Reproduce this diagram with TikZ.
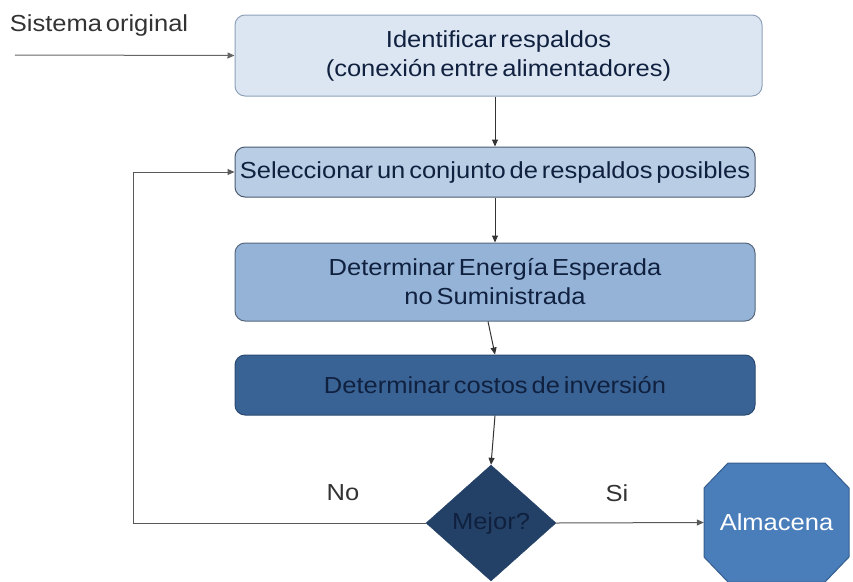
\documentclass[tikz,border=0pt]{standalone}
\usepackage{fontspec}
\setmainfont{Liberation Sans}[FakeStretch=1.1, WordSpace=0.55]
\usetikzlibrary{shapes.geometric,arrows.meta}
\definecolor{fillA}{HTML}{DCE6F2}
\definecolor{lineA}{HTML}{8FA2BA}
\definecolor{fillB}{HTML}{B9CDE5}
\definecolor{lineB}{HTML}{4A5A6E}
\definecolor{fillC}{HTML}{95B3D7}
\definecolor{lineC}{HTML}{56677D}
\definecolor{fillD}{HTML}{3A6395}
\definecolor{lineD}{HTML}{2A4A72}
\definecolor{fillE}{HTML}{234166}
\definecolor{fillF}{HTML}{4A7EBB}
\definecolor{lineF}{HTML}{355E8E}
\definecolor{txt}{HTML}{10203F}
\definecolor{conn}{HTML}{333333}
\tikzset{
  stepbox/.style={rectangle, rounded corners=10pt, line width=1pt, inner sep=0pt,
    align=center, text=txt, font=\fontsize{23.2}{29}\selectfont, minimum width=520pt},
  lbl/.style={font=\fontsize{23.2}{27}\selectfont, text=conn, inner sep=0pt},
  arr/.style={draw=conn, line width=1pt, -{Triangle[length=7pt,width=6pt]}},
}
\begin{document}
\begin{tikzpicture}[x=1pt,y=-1pt]
\useasboundingbox (0,0) rectangle (853,581);
\clip (0,0) rectangle (853,581);
\node[stepbox, fill=fillA, draw=lineA, minimum width=527pt, minimum height=81pt] (b1) at (498.5,55.5)
  {Identificar respaldos\\(conexión entre alimentadores)};
\node[stepbox, fill=fillB, draw=lineB, minimum height=50pt] (b2) at (495,172)
  {Seleccionar un conjunto de respaldos posibles};
\node[stepbox, fill=fillC, draw=lineC, minimum height=78pt] (b3) at (495,282)
  {Determinar Energía Esperada\\no Suministrada};
\node[stepbox, fill=fillD, draw=lineD, minimum height=60pt] (b4) at (495,385)
  {Determinar costos de inversión};
\node[diamond, fill=fillE, draw=fillE, minimum width=130pt, minimum height=116pt, inner sep=0pt,
  text=txt, font=\fontsize{23.2}{27}\selectfont] (dec) at (491,523) {Mejor?};
\fill[fillF, draw=lineF, line width=1pt] (704,488) -- (728,463) -- (825,463) -- (849,488)
  -- (849,557) -- (825,582) -- (728,582) -- (704,557) -- cycle;
\node[rectangle, minimum width=145pt, minimum height=119pt, inner sep=0pt,
  text=white, font=\fontsize{23.2}{27}\selectfont] (alm) at (776.5,522.5) {Almacena};
\node[lbl] (sis) at (99,26) {Sistema original};
\node[lbl] (no) at (343,493) {No};
\node[lbl] (si) at (617,493) {Si};
\coordinate (start) at (15,55);
\coordinate (loopA) at (133,523);
\coordinate (loopB) at (133,172);
\draw[arr, draw=gray!80!black] (start) -- (b1.west);
\draw[arr] (b2.north |- b1.south) -- (b2.north);
\draw[arr] (b2.south) -- (b3.north);
\draw[arr] ([xshift=-7pt]b3.south) -- (b4.north);
\draw[arr] (b4.south) -- (dec.north);
\draw[arr, draw=gray!70!black] (dec.east) -- (alm.west);
\draw[arr, draw=gray!70!black] (dec.west) -- (loopA) -- (loopB) -- (b2.west);
\end{tikzpicture}
\end{document}
